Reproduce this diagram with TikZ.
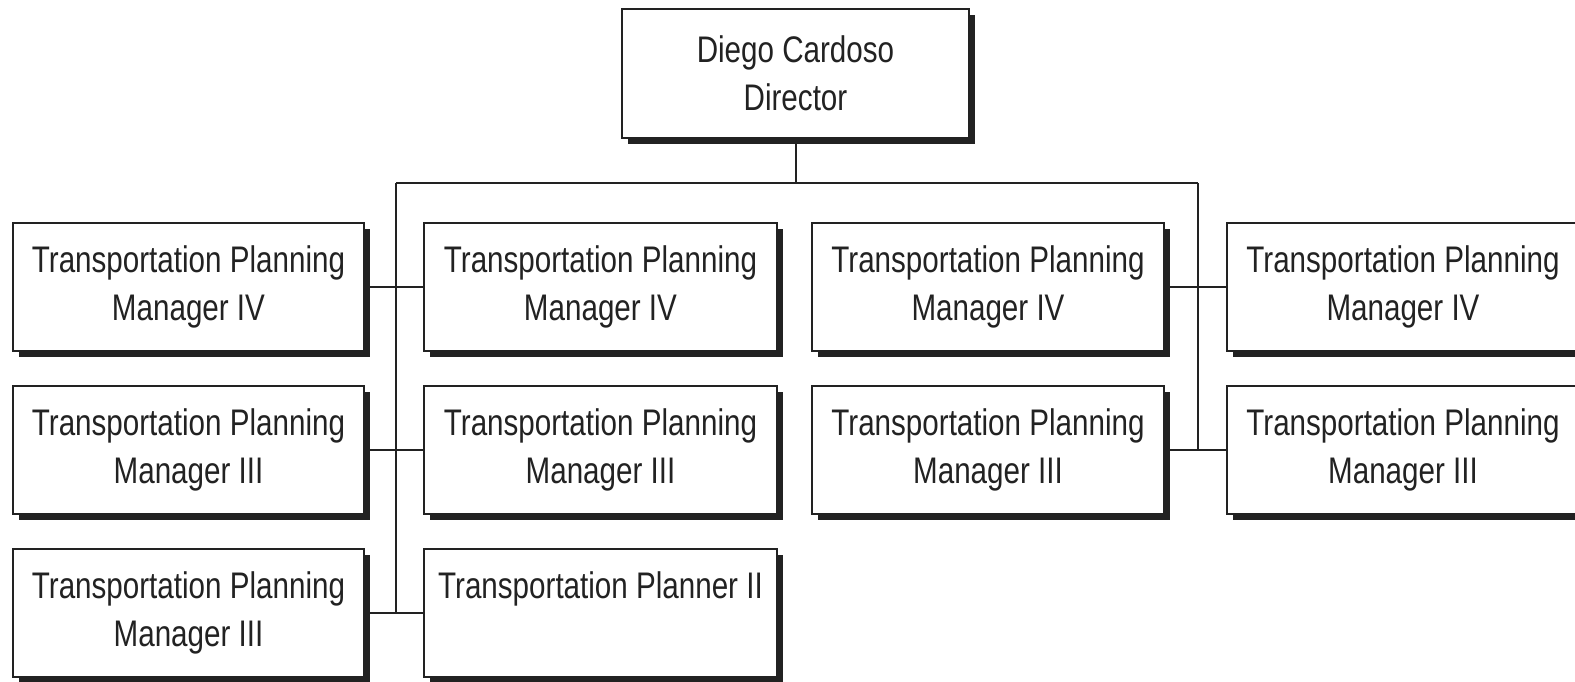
\documentclass[tikz,border=0pt]{standalone}
\usepackage{fontspec}
\setmainfont{Liberation Sans}[FakeStretch=0.8]
\usetikzlibrary{shadows}
\definecolor{ink}{HTML}{222222}
\begin{document}
\begin{tikzpicture}[x=1pt,y=-1pt,
  orgbox/.style={draw=ink, line width=2pt, fill=white, rectangle, inner sep=0pt,
    anchor=north west, minimum width=351pt, minimum height=128pt, align=center,
    text=ink, font=\fontsize{37}{48}\selectfont,
    drop shadow={shadow xshift=6pt, shadow yshift=-6pt, opacity=1, fill=ink}},
  link/.style={draw=ink, line width=2pt}]
\useasboundingbox (0,0) rectangle (1575,682);
\clip (0,0) rectangle (1575,682);
\node[orgbox, minimum width=347pt, minimum height=129pt] (d) at (621,8) {Diego Cardoso\\Director};
% column 1
\node[orgbox] (a1) at (12,222) {Transportation Planning\\Manager IV};
\node[orgbox] (a2) at (12,385) {Transportation Planning\\Manager III};
\node[orgbox] (a3) at (12,548) {Transportation Planning\\Manager III};
% column 2
\node[orgbox, minimum width=353pt] (b1) at (423,222) {Transportation Planning\\Manager IV};
\node[orgbox, minimum width=353pt] (b2) at (423,385) {Transportation Planning\\Manager III};
\node[orgbox, minimum width=353pt] (b3) at (423,548) {Transportation Planner II\\\vphantom{g}};
% column 3
\node[orgbox, minimum width=352pt] (c1) at (811,222) {Transportation Planning\\Manager IV};
\node[orgbox, minimum width=352pt] (c2) at (811,385) {Transportation Planning\\Manager III};
% column 4
\node[orgbox, minimum width=352pt] (e1) at (1226,222) {Transportation Planning\\Manager IV};
\node[orgbox, minimum width=352pt] (e2) at (1226,385) {Transportation Planning\\Manager III};
% trunk coordinates
\coordinate (hl) at (396,183);
\coordinate (hr) at (1198,183);
\coordinate (tl) at (396,613);
\coordinate (tr) at (1198,449);
\draw[link] (d.south) -- (d.south |- hl);
\draw[link] (hl) -- (hr);
\draw[link] (hl) -- (tl);
\draw[link] (hr) -- (tr);
\draw[link] (a1.east) -- (b1.west);
\draw[link] (a2.east) -- (b2.west);
\draw[link] (a3.east) -- (a3.east -| b3.west);
\draw[link] (c1.east) -- (e1.west);
\draw[link] (c2.east) -- (e2.west);
\end{tikzpicture}
\end{document}
